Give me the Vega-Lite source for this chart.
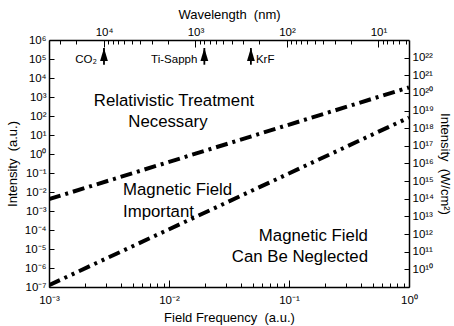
{
  "$schema": "https://vega.github.io/schema/vega-lite/v6.json",
  "width": 360,
  "height": 247,
  "autosize": {"type": "none"},
  "padding": {"left": 49, "top": 40, "right": 45, "bottom": 39},
  "background": "white",
  "config": {
    "view": {"stroke": null},
    "font": "Liberation Sans",
    "axis": {
      "domainColor": "black",
      "domainWidth": 1.5,
      "tickColor": "black",
      "tickWidth": 1,
      "labelColor": "black",
      "labelFont": "Liberation Sans",
      "labelFontSize": 11.5,
      "titleFont": "Liberation Sans",
      "titleFontSize": 13,
      "titleFontWeight": "normal",
      "titleColor": "black",
      "grid": false,
      "labelOverlap": false,
      "labelFlush": false,
      "labelBound": false
    }
  },
  "datasets": {
    "limits": [
      {"regime": "relativistic", "freq": 0.001, "intensity": 0.0042},
      {"regime": "relativistic", "freq": 1, "intensity": 3200},
      {"regime": "magnetic", "freq": 0.001, "intensity": 1.25e-7},
      {"regime": "magnetic", "freq": 1, "intensity": 83}
    ],
    "regions": [
      {"region": "relativistic", "text": "Relativistic Treatment", "freq": 0.011, "intensity": 615},
      {"region": "relativistic", "text": "Necessary", "freq": 0.0098, "intensity": 48},
      {"region": "important", "text": "Magnetic Field", "freq": 0.00414, "intensity": 0.0127},
      {"region": "important", "text": "Important", "freq": 0.00414, "intensity": 0.00089},
      {"region": "negligible", "text": "Magnetic Field", "freq": 0.455, "intensity": 4.8e-5},
      {"region": "negligible", "text": "Can Be Neglected", "freq": 0.455, "intensity": 3.8e-6}
    ],
    "lasers": [
      {"laser": "CO₂", "wavelength": 10000},
      {"laser": "Ti-Sapph", "wavelength": 800},
      {"laser": "KrF", "wavelength": 248}
    ]
  },
  "layer": [
    {
      "encoding": {
        "x": {
          "field": "freq",
          "type": "quantitative",
          "scale": {"type": "log", "domain": [0.001, 1]},
          "axis": {
            "orient": "bottom",
            "title": "Field Frequency\u00a0 (a.u.)",
            "values": [0.001, 0.002, 0.003, 0.004, 0.005, 0.006, 0.007, 0.008, 0.009, 0.01, 0.02, 0.03, 0.04, 0.05, 0.06, 0.07, 0.08, 0.09, 0.1, 0.2, 0.3, 0.4, 0.5, 0.6, 0.7, 0.8, 0.9, 1],
            "labelExpr": "abs(log(datum.value)/LN10 - round(log(datum.value)/LN10)) < 0.001 ? ['10⁻³','10⁻²','10⁻¹','10⁰'][round(log(datum.value)/LN10) + 3] : ''",
            "tickSize": {"condition": {"test": "abs(log(datum.value)/LN10 - round(log(datum.value)/LN10)) < 0.001", "value": -7}, "value": -4},
            "labelPadding": 14,
            "titlePadding": 3
          }
        },
        "y": {
          "field": "intensity",
          "type": "quantitative",
          "scale": {"type": "log", "domain": [1e-7, 1000000]},
          "axis": {
            "orient": "left",
            "title": "Intensity\u00a0 (a.u.)",
            "values": [1e-7, 1e-6, 1e-5, 1e-4, 0.001, 0.01, 0.1, 1, 10, 100, 1000, 10000, 100000, 1000000],
            "labelExpr": "['10⁻⁷','10⁻⁶','10⁻⁵','10⁻⁴','10⁻³','10⁻²','10⁻¹','10⁰','10¹','10²','10³','10⁴','10⁵','10⁶'][round(log(datum.value)/LN10) + 7]",
            "tickSize": -5,
            "labelPadding": 8,
            "titlePadding": 5
          }
        }
      },
      "layer": [
        {
          "data": {"name": "limits"},
          "transform": [{"filter": "datum.regime === 'relativistic'"}],
          "mark": {"type": "line", "color": "black", "strokeWidth": 4, "strokeDash": [12, 5, 3, 5], "strokeCap": "butt", "clip": true}
        },
        {
          "data": {"name": "limits"},
          "transform": [{"filter": "datum.regime === 'magnetic'"}],
          "mark": {"type": "line", "color": "black", "strokeWidth": 4, "strokeDash": [12, 5, 3, 5, 3, 5], "strokeCap": "butt", "clip": true}
        },
        {
          "data": {"name": "regions"},
          "transform": [{"filter": "datum.region === 'relativistic'"}],
          "mark": {"type": "text", "align": "center", "baseline": "middle", "font": "Liberation Sans", "fontSize": 16.8, "color": "black"},
          "encoding": {"text": {"field": "text"}}
        },
        {
          "data": {"name": "regions"},
          "transform": [{"filter": "datum.region === 'important'"}],
          "mark": {"type": "text", "align": "left", "baseline": "middle", "font": "Liberation Sans", "fontSize": 16.8, "color": "black"},
          "encoding": {"text": {"field": "text"}}
        },
        {
          "data": {"name": "regions"},
          "transform": [{"filter": "datum.region === 'negligible'"}],
          "mark": {"type": "text", "align": "right", "baseline": "middle", "font": "Liberation Sans", "fontSize": 16.8, "color": "black"},
          "encoding": {"text": {"field": "text"}}
        }
      ]
    },
    {
      "data": {"name": "lasers"},
      "encoding": {
        "x": {
          "field": "wavelength",
          "type": "quantitative",
          "scale": {"type": "log", "domain": [39900, 4.64]},
          "axis": {
            "orient": "top",
            "title": "Wavelength\u00a0 (nm)",
            "values": [30000, 20000, 10000, 9000, 8000, 7000, 6000, 5000, 4000, 3000, 2000, 1000, 900, 800, 700, 600, 500, 400, 300, 200, 100, 90, 80, 70, 60, 50, 40, 30, 20, 10, 9, 8, 7, 6, 5],
            "labelExpr": "abs(log(datum.value)/LN10 - round(log(datum.value)/LN10)) < 0.001 ? ['10¹','10²','10³','10⁴'][round(log(datum.value)/LN10) - 1] : ''",
            "tickSize": {"condition": {"test": "abs(log(datum.value)/LN10 - round(log(datum.value)/LN10)) < 0.001", "value": -7}, "value": -4},
            "labelPadding": 10,
            "titlePadding": 2
          }
        }
      },
      "layer": [
        {
          "mark": {"type": "rule", "color": "black", "strokeWidth": 1.8},
          "encoding": {
            "y": {
              "datum": 3.51e22,
              "type": "quantitative",
              "scale": {"type": "log", "domain": [3.51e9, 3.51e22]},
              "axis": {
                "orient": "right",
                "title": "Intensity\u00a0 (W/cm²)",
                "values": [1e10, 1e11, 1e12, 1e13, 1e14, 1e15, 1e16, 1e17, 1e18, 1e19, 1e20, 1e21, 1e22],
                "labelExpr": "['10¹⁰','10¹¹','10¹²','10¹³','10¹⁴','10¹⁵','10¹⁶','10¹⁷','10¹⁸','10¹⁹','10²⁰','10²¹','10²²'][round(log(datum.value)/LN10) - 10]",
                "tickSize": -5,
                "labelPadding": 8,
                "titlePadding": 4
              }
            },
            "y2": {"datum": 3.97e21}
          }
        },
        {
          "mark": {"type": "point", "shape": "M0,-1L0.6,1L-0.6,1Z", "filled": true, "color": "black", "opacity": 1, "size": 169},
          "encoding": {"y": {"datum": 1.5e22, "type": "quantitative"}}
        },
        {
          "transform": [{"filter": "datum.laser !== 'KrF'"}],
          "mark": {"type": "text", "align": "right", "baseline": "middle", "dx": -7, "font": "Liberation Sans", "fontSize": 11.5, "color": "black"},
          "encoding": {"y": {"datum": 7.27e21, "type": "quantitative"}, "text": {"field": "laser"}}
        },
        {
          "transform": [{"filter": "datum.laser === 'KrF'"}],
          "mark": {"type": "text", "align": "left", "baseline": "middle", "dx": 5, "font": "Liberation Sans", "fontSize": 11.5, "color": "black"},
          "encoding": {"y": {"datum": 7.27e21, "type": "quantitative"}, "text": {"field": "laser"}}
        }
      ]
    }
  ],
  "resolve": {
    "scale": {"x": "independent", "y": "independent"},
    "axis": {"x": "independent", "y": "independent"}
  }
}
